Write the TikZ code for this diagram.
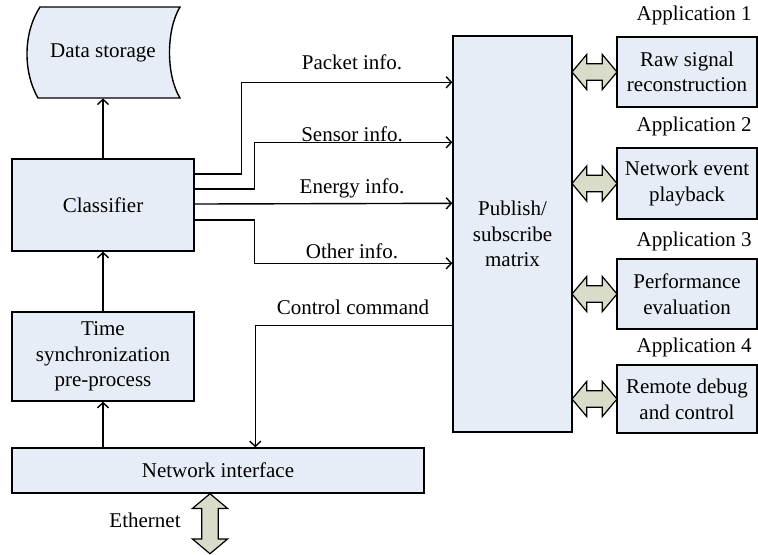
\documentclass[tikz,border=0pt]{standalone}
\usepackage{fontspec}
\setmainfont{Liberation Serif}
\usetikzlibrary{arrows.meta,shapes.arrows,fit,calc}
\definecolor{boxfill}{RGB}{230,237,246}
\definecolor{arrfill}{RGB}{216,220,201}
\begin{document}
\begin{tikzpicture}[x=0.5pt,y=-0.5pt,
  font=\fontsize{10.5}{12.8}\selectfont,
  box/.style={draw, fill=boxfill, line width=0.7pt, inner sep=0pt},
  txt/.style={align=center, inner sep=0pt},
  flow/.style={-{Straight Barb[length=2.6pt,width=5.6pt]}, line width=0.7pt},
  dbl/.style={double arrow, draw, fill=arrfill, line width=0.6pt, inner sep=3.8pt,
    minimum height=22.5pt, minimum width=17pt, double arrow head extend=4.7pt,
    double arrow tip angle=100},
  lbl/.style={inner sep=1pt}]
\useasboundingbox (0,0) rectangle (758,554);

% storage shape: convex left side, concave right side
\draw[fill=boxfill, line width=0.7pt]
  (40,7) -- (180,7) .. controls (166,30) and (166,75) .. (180,98)
  -- (38,98) .. controls (23,72) and (23,33) .. (40,7) -- cycle;
\node[inner sep=0pt, fit={(26,7)(180,98)}] (ds) {};
\node[txt] (dst) at (ds.center) {Data storage};

% left column
\node[box, fit={(12,159)(194,251)}] (cls) {};
\node[txt] (clst) at (cls.center) {Classifier};
\node[box, fit={(12,312)(194,401)}] (ts) {};
\node[txt] (tst) at (ts.center) {Time\\synchronization\\pre-process};
\node[box, fit={(12,448)(424,493)}] (net) {};
\node[txt] (nett) at (net.center) {Network interface};

% central matrix
\node[box, fit={(453,36)(572,432)}] (mat) {};
\node[txt] (matt) at (mat.center) {Publish/\\subscribe\\matrix};

% applications
\node[box, fit={(617,37)(757,107)}] (a1) {};
\node[txt] at (a1.center) {Raw signal\\reconstruction};
\node[box, fit={(617,148)(757,219)}] (a2) {};
\node[txt] at (a2.center) {Network event\\playback};
\node[box, fit={(617,259)(757,329)}] (a3) {};
\node[txt] at (a3.center) {Performance\\evaluation};
\node[box, fit={(617,365)(757,433)}] (a4) {};
\node[txt] at (a4.center) {Remote debug\\and control};

\node[lbl, anchor=east] (t1) at (754,15) {Application 1};
\node[lbl, anchor=east] (t2) at (754,126) {Application 2};
\node[lbl, anchor=east] (t3) at (754,241) {Application 3};
\node[lbl, anchor=east] (t4) at (754,347) {Application 4};

% two-way links between matrix and applications
\foreach \a in {a1,a2,a3,a4}
  \node[dbl] (d\a) at ($(mat.east |- \a.west)!0.5!(\a.west)$) {};

% vertical flow on the left
\draw[flow] (cls.north) -- (ds.south);
\draw[flow] (ts.north) -- (cls.south);
\draw[flow] (ts.south |- net.north) -- (ts.south);

% classifier outputs
\draw[flow] ($(cls.east)+(0,-31)$) -- ++(47,0) |- ($(mat.north west)+(0,47)$);
\draw[flow] ($(cls.east)+(0,-16)$) -- ++(60,0) |- ($(mat.north west)+(0,107)$);
\draw[flow] ($(cls.east)+(0,-1)$) -- ($(mat.north west)+(0,168)$);
\draw[flow] ($(cls.east)+(0,15)$) -- ++(60,0) |- ($(mat.north west)+(0,228)$);

\node[lbl] (lp) at (352,62) {Packet info.};
\node[lbl] (ls) at (352,134) {Sensor info.};
\node[lbl] (le) at (352,188) {Energy info.};
\node[lbl] (lo) at (352,251) {Other info.};

% control path back to the network
\draw[flow] ($(mat.north west)+(0,290)$) -| ($(net.north west)+(244,0)$);
\node[lbl] (lc) at (353,307) {Control command};

% ethernet link
\node[dbl, shape border rotate=90, minimum height=30pt] (eth)
  at ($(net.south)+(-8,30)$) {};
\node[lbl, anchor=east] (le2) at (183,520) {Ethernet};
\end{tikzpicture}
\end{document}
